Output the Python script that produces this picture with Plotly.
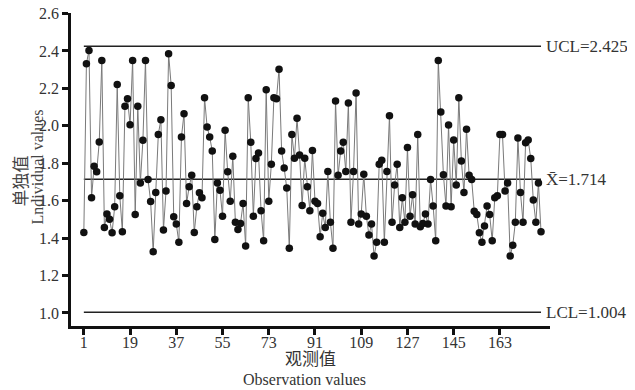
import plotly.graph_objects as go

values = [
    1.430, 2.332, 2.403, 1.615, 1.784, 1.754, 1.914, 2.349, 1.457, 1.528,
    1.501, 1.428, 1.567, 2.221, 1.626, 1.434, 2.104, 2.145, 2.006, 2.349,
    1.526, 2.104, 1.695, 1.923, 2.349, 1.713, 1.596, 1.327, 1.644, 1.954,
    2.033, 1.443, 1.652, 2.385, 2.216, 1.514, 1.475, 1.377, 1.940, 2.065,
    1.585, 1.674, 1.736, 1.430, 1.567, 1.642, 1.615, 2.150, 1.994, 1.940,
    1.866, 1.393, 1.695, 1.656, 1.517, 1.976, 1.754, 1.597, 1.837, 1.484,
    1.446, 1.478, 1.585, 1.357, 2.150, 1.912, 1.517, 1.825, 1.855, 1.546,
    1.386, 2.193, 1.597, 1.795, 2.150, 2.145, 2.303, 1.866, 1.775, 1.667,
    1.345, 1.953, 1.827, 2.040, 1.844, 1.574, 1.827, 1.674, 1.546, 1.868,
    1.597, 1.585, 1.407, 1.532, 1.457, 1.756, 1.484, 1.345, 2.132, 1.736,
    1.866, 1.912, 1.756, 2.122, 1.484, 1.756, 2.175, 1.475, 1.528, 1.741,
    1.517, 1.416, 1.475, 1.304, 1.377, 1.795, 1.816, 1.377, 1.756, 2.054,
    1.485, 1.684, 1.795, 1.457, 1.615, 1.485, 1.884, 1.517, 1.631, 1.475,
    1.953, 1.460, 1.478, 1.528, 1.475, 1.713, 1.572, 1.386, 2.349, 2.074,
    1.738, 1.572, 2.004, 1.567, 1.924, 1.684, 2.150, 1.812, 1.644, 1.981,
    1.736, 1.713, 1.544, 1.526, 1.428, 1.377, 1.464, 1.572, 1.526, 1.386,
    1.615, 1.626, 1.953, 1.953, 1.652, 1.695, 1.304, 1.361, 1.484, 1.935,
    1.644, 1.484, 1.910, 1.924, 1.825, 1.603, 1.484, 1.695, 1.434,
]
obs = list(range(1, len(values) + 1))

ucl = 2.425
center = 1.714
lcl = 1.004
limit_labels = ["UCL=2.425", "X\u0304=1.714", "LCL=1.004"]

x_ticks = [1, 19, 37, 55, 73, 91, 109, 127, 145, 163]
y_ticks = [1.0, 1.2, 1.4, 1.6, 1.8, 2.0, 2.2, 2.4, 2.6]

x_title = ["观测值", "Observation values"]
y_title = ["单独值", "Lndividual values"]

font = "Liberation Serif, Times New Roman, Noto Sans CJK SC, serif"
txt = "#333"

fig = go.Figure()

for level in [ucl, center, lcl]:
    fig.add_trace(go.Scatter(
        x=[obs[0], obs[-1]], y=[level, level], mode="lines",
        line=dict(color="#222", width=1.5), hoverinfo="skip", showlegend=False,
    ))

fig.add_trace(go.Scatter(
    x=obs, y=values, mode="lines+markers",
    line=dict(color="#7a7a7a", width=1),
    marker=dict(color="#111", size=7.5),
    showlegend=False,
))

for level, label in zip([ucl, center, lcl], limit_labels):
    fig.add_annotation(
        x=obs[-1], y=level, xref="x", yref="y", text=label,
        showarrow=False, xanchor="left", yanchor="middle", xshift=3,
        font=dict(family=font, size=17, color=txt),
    )

# axis titles (two lines each)
fig.add_annotation(x=0.5, y=0, xref="paper", yref="paper", text=x_title[0],
                   showarrow=False, xanchor="center", yanchor="middle", yshift=-33,
                   font=dict(family=font, size=17, color=txt))
fig.add_annotation(x=0.5, y=0, xref="paper", yref="paper", text=x_title[1],
                   showarrow=False, xanchor="center", yanchor="middle", yshift=-53, xshift=-6,
                   font=dict(family=font, size=16, color=txt))
fig.add_annotation(x=0, y=0.5, xref="paper", yref="paper", text=y_title[0],
                   showarrow=False, xanchor="center", yanchor="middle", xshift=-50, yshift=-12,
                   textangle=-90, font=dict(family=font, size=17, color="#444"))
fig.add_annotation(x=0, y=0.5, xref="paper", yref="paper", text=y_title[1],
                   showarrow=False, xanchor="center", yanchor="middle", xshift=-34, yshift=2,
                   textangle=-90, font=dict(family=font, size=16, color="#444"))

fig.update_layout(
    width=627, height=382,
    margin=dict(l=63, r=85, t=5, b=64),
    plot_bgcolor="white", paper_bgcolor="white",
    font=dict(family=font, size=16, color=txt),
    xaxis=dict(
        range=[-4, 182.5], tickvals=x_ticks, ticktext=[str(t) for t in x_ticks],
        showgrid=False, zeroline=False, automargin=False,
        showline=True, linecolor="#111", linewidth=2.5,
        ticks="outside", ticklen=6, tickwidth=2.5, tickcolor="#111",
        ticklabelstandoff=-6, ticklabeloverflow="allow",
        tickfont=dict(family=font, size=16, color=txt),
    ),
    yaxis=dict(
        range=[0.93, 2.603], tickvals=y_ticks, ticktext=[f"{t:.1f}" for t in y_ticks],
        showgrid=False, zeroline=False, automargin=False,
        showline=True, linecolor="#111", linewidth=2.5,
        ticks="outside", ticklen=6, tickwidth=2.5, tickcolor="#111",
        ticklabeloverflow="allow",
        tickfont=dict(family=font, size=16, color=txt),
    ),
)

fig.write_html("out.html")
